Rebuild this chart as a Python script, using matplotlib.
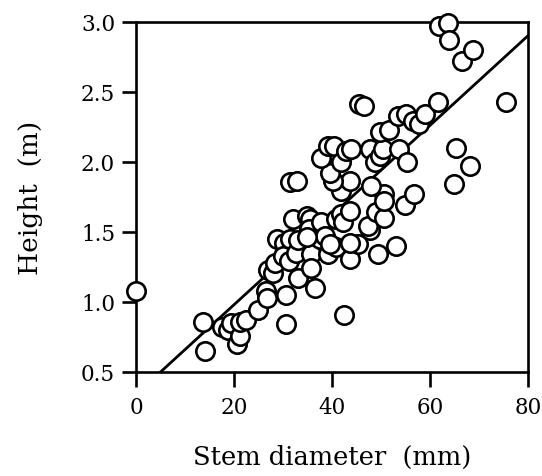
import matplotlib
matplotlib.use("Agg")
import matplotlib.pyplot as plt
import numpy as np

# Stem diameter (mm) and height (m)
diameter = [0.1, 13.6, 14.0, 17.5, 18.7, 19.3, 20.6, 21.2, 21.2, 22.4,
            24.9, 26.6, 26.7, 26.9, 28.7, 27.9, 28.3, 30.3, 30.7, 30.7,
            30.0, 31.3, 31.4, 32.7, 32.0, 33.0, 33.0, 34.8, 35.5, 35.4,
            35.8, 35.8, 36.5, 37.5, 37.8, 38.5, 39.2, 40.9, 40.9, 41.9,
            42.2, 43.6, 43.6, 42.4, 45.3, 49.3, 53.1, 47.7, 47.3, 49.0,
            50.7, 54.8, 56.8, 50.7, 50.7, 48.0, 41.9, 43.6, 40.2, 39.5,
            37.8, 39.2, 40.5, 41.9, 42.9, 43.9, 47.7, 48.7, 49.8, 50.4,
            49.7, 51.7, 53.7, 55.4, 53.4, 55.1, 56.5, 57.8, 58.9, 61.6,
            45.6, 46.6, 61.8, 63.6, 63.9, 66.6, 68.7, 75.5, 65.4, 68.2,
            64.8, 31.4, 32.9, 34.8, 39.6, 43.6]
height = [1.08, 0.86, 0.65, 0.82, 0.80, 0.85, 0.70, 0.76, 0.86, 0.87,
          0.94, 1.08, 1.03, 1.23, 1.45, 1.21, 1.28, 1.42, 0.84, 1.05,
          1.33, 1.29, 1.45, 1.35, 1.59, 1.17, 1.44, 1.61, 1.59, 1.52,
          1.34, 1.245, 1.10, 1.45, 1.57, 1.47, 1.34, 1.39, 1.59, 1.63,
          1.57, 1.65, 1.305, 0.905, 1.41, 1.34, 1.40, 1.51, 1.54, 1.64,
          1.60, 1.69, 1.77, 1.77, 1.72, 1.83, 1.79, 1.86, 1.86, 1.92,
          2.03, 2.11, 2.11, 2.00, 2.08, 2.09, 2.09, 2.00, 2.04, 2.09,
          2.21, 2.23, 2.09, 2.00, 2.33, 2.34, 2.29, 2.27, 2.34, 2.43,
          2.41, 2.40, 2.97, 2.99, 2.87, 2.72, 2.80, 2.43, 2.10, 1.97,
          1.84, 1.855, 1.864, 1.46, 1.41, 1.42]

# Regression line parameters
fit_slope = 0.032
fit_intercept = 0.34
fit_range = [5, 80]

x_ticks = [0, 20, 40, 60, 80]
y_ticks = [0.5, 1.0, 1.5, 2.0, 2.5, 3.0]

plt.rcParams['font.family'] = ['DejaVu Serif']

fig = plt.figure(figsize=(5.42, 4.77), dpi=100)
W, H = 542, 477
ax = fig.add_axes([136 / W, (H - 373) / H, (528 - 136) / W, (373 - 22.7) / H])

fx = np.array(fit_range, dtype=float)
ax.plot(fx, fit_intercept + fit_slope * fx, color='black', lw=2.0, zorder=2)
ax.scatter(diameter, height, s=175, facecolor='white', edgecolor='black',
           linewidths=1.9, zorder=3, clip_on=False)

ax.set_xlim(0, 80)
ax.set_ylim(0.5, 3.0)
ax.set_xticks(x_ticks)
ax.set_yticks(y_ticks)
ax.set_xticklabels([str(v) for v in x_ticks])
ax.set_yticklabels([f"{v:.1f}" for v in y_ticks])

for s in ax.spines.values():
    s.set_linewidth(1.9)
ax.tick_params(axis='both', direction='out', width=1.9, labelsize=15.5)
ax.tick_params(axis='x', length=11, pad=6)
ax.tick_params(axis='y', length=10, pad=5)

ax.set_xlabel("Stem diameter  (mm)", fontsize=18.5, labelpad=19)
ax.set_ylabel("Height  (m)", fontsize=19, labelpad=27)

fig.savefig("out.png", dpi=100)
